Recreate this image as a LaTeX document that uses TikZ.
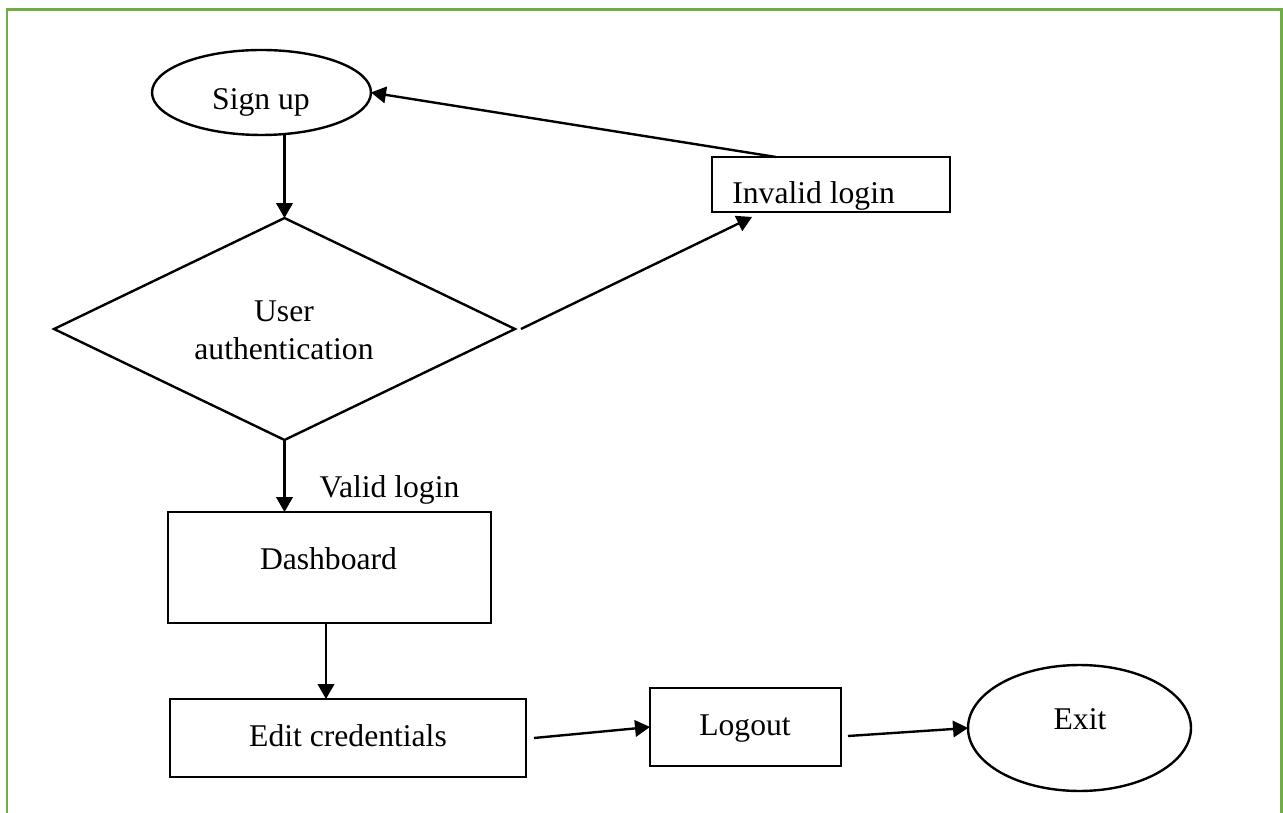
\documentclass[tikz,border=0pt]{standalone}
\usepackage{fontspec}
\setmainfont{Liberation Serif}
\usetikzlibrary{shapes.geometric,arrows.meta,calc}
\definecolor{framegreen}{HTML}{70AD47}
\begin{document}
\begin{tikzpicture}[x=0.02cm,y=-0.02cm,
  box/.style={draw, line width=0.048cm, inner sep=0pt, outer sep=0pt},
  rectbox/.style={box, rectangle},
  ovalbox/.style={box, ellipse},
  decision/.style={box, diamond},
  txt/.style={font=\fontsize{18}{21}\selectfont, inner sep=0pt, anchor=base},
  arr/.style={line width=0.048cm, -{Triangle[length=0.30cm,width=0.33cm]}},
  frameline/.style={framegreen, line width=0.06cm}]
\useasboundingbox (0,0) rectangle (1283,813);
\draw[frameline] (7,813) -- (7,10) -- (1281,10) -- (1281,813);

\node[ovalbox, minimum width=4.38cm, minimum height=1.70cm] (signup) at (261.5,92.5) {};
\node[txt] (signupT) at (261,110) {Sign up};
\node[decision, minimum width=9.22cm, minimum height=4.44cm] (auth) at (284.5,329) {};
\node[txt] (authT1) at (284,322) {User};
\node[txt] (authT2) at (284,360) {authentication};
\node[rectbox, minimum width=4.76cm, minimum height=1.10cm] (invalid) at (831,184.5) {};
\node[txt, anchor=base west] (invalidT) at (732,204) {Invalid login};
\node[rectbox, minimum width=6.46cm, minimum height=2.22cm] (dash) at (329.5,567.5) {};
\node[txt] (dashT) at (328.5,569) {Dashboard};
\node[txt] (validT) at (389.5,497) {Valid login};
\node[rectbox, minimum width=7.12cm, minimum height=1.56cm] (edit) at (348,738) {};
\node[txt] (editT) at (348,746) {Edit credentials};
\node[rectbox, minimum width=3.82cm, minimum height=1.56cm] (logout) at (745.5,727) {};
\node[txt] (logoutT) at (745,735) {Logout};
\node[ovalbox, minimum width=4.46cm, minimum height=2.52cm] (exit) at (1079.5,728) {};
\node[txt] (exitT) at (1080,729) {Exit};

\draw[arr] (auth.north |- signup.south) -- (auth.north);
\draw[arr] ([xshift=0.12cm]auth.east) -- ([xshift=0.8cm,yshift=-0.1cm]invalid.south west);
\draw[arr] ([xshift=1.28cm]invalid.north west) -- (signup.east);
\draw[arr] (auth.south) -- (auth.south |- dash.north);
\coordinate (dashout) at ([xshift=-0.07cm]dash.south);
\draw[arr] (dashout) -- (dashout |- edit.north);
\draw[arr] ([xshift=0.16cm]edit.east) -- (logout.west);
\draw[arr] ([xshift=0.14cm,yshift=-0.18cm]logout.east) -- (exit.west);
\end{tikzpicture}
\end{document}
